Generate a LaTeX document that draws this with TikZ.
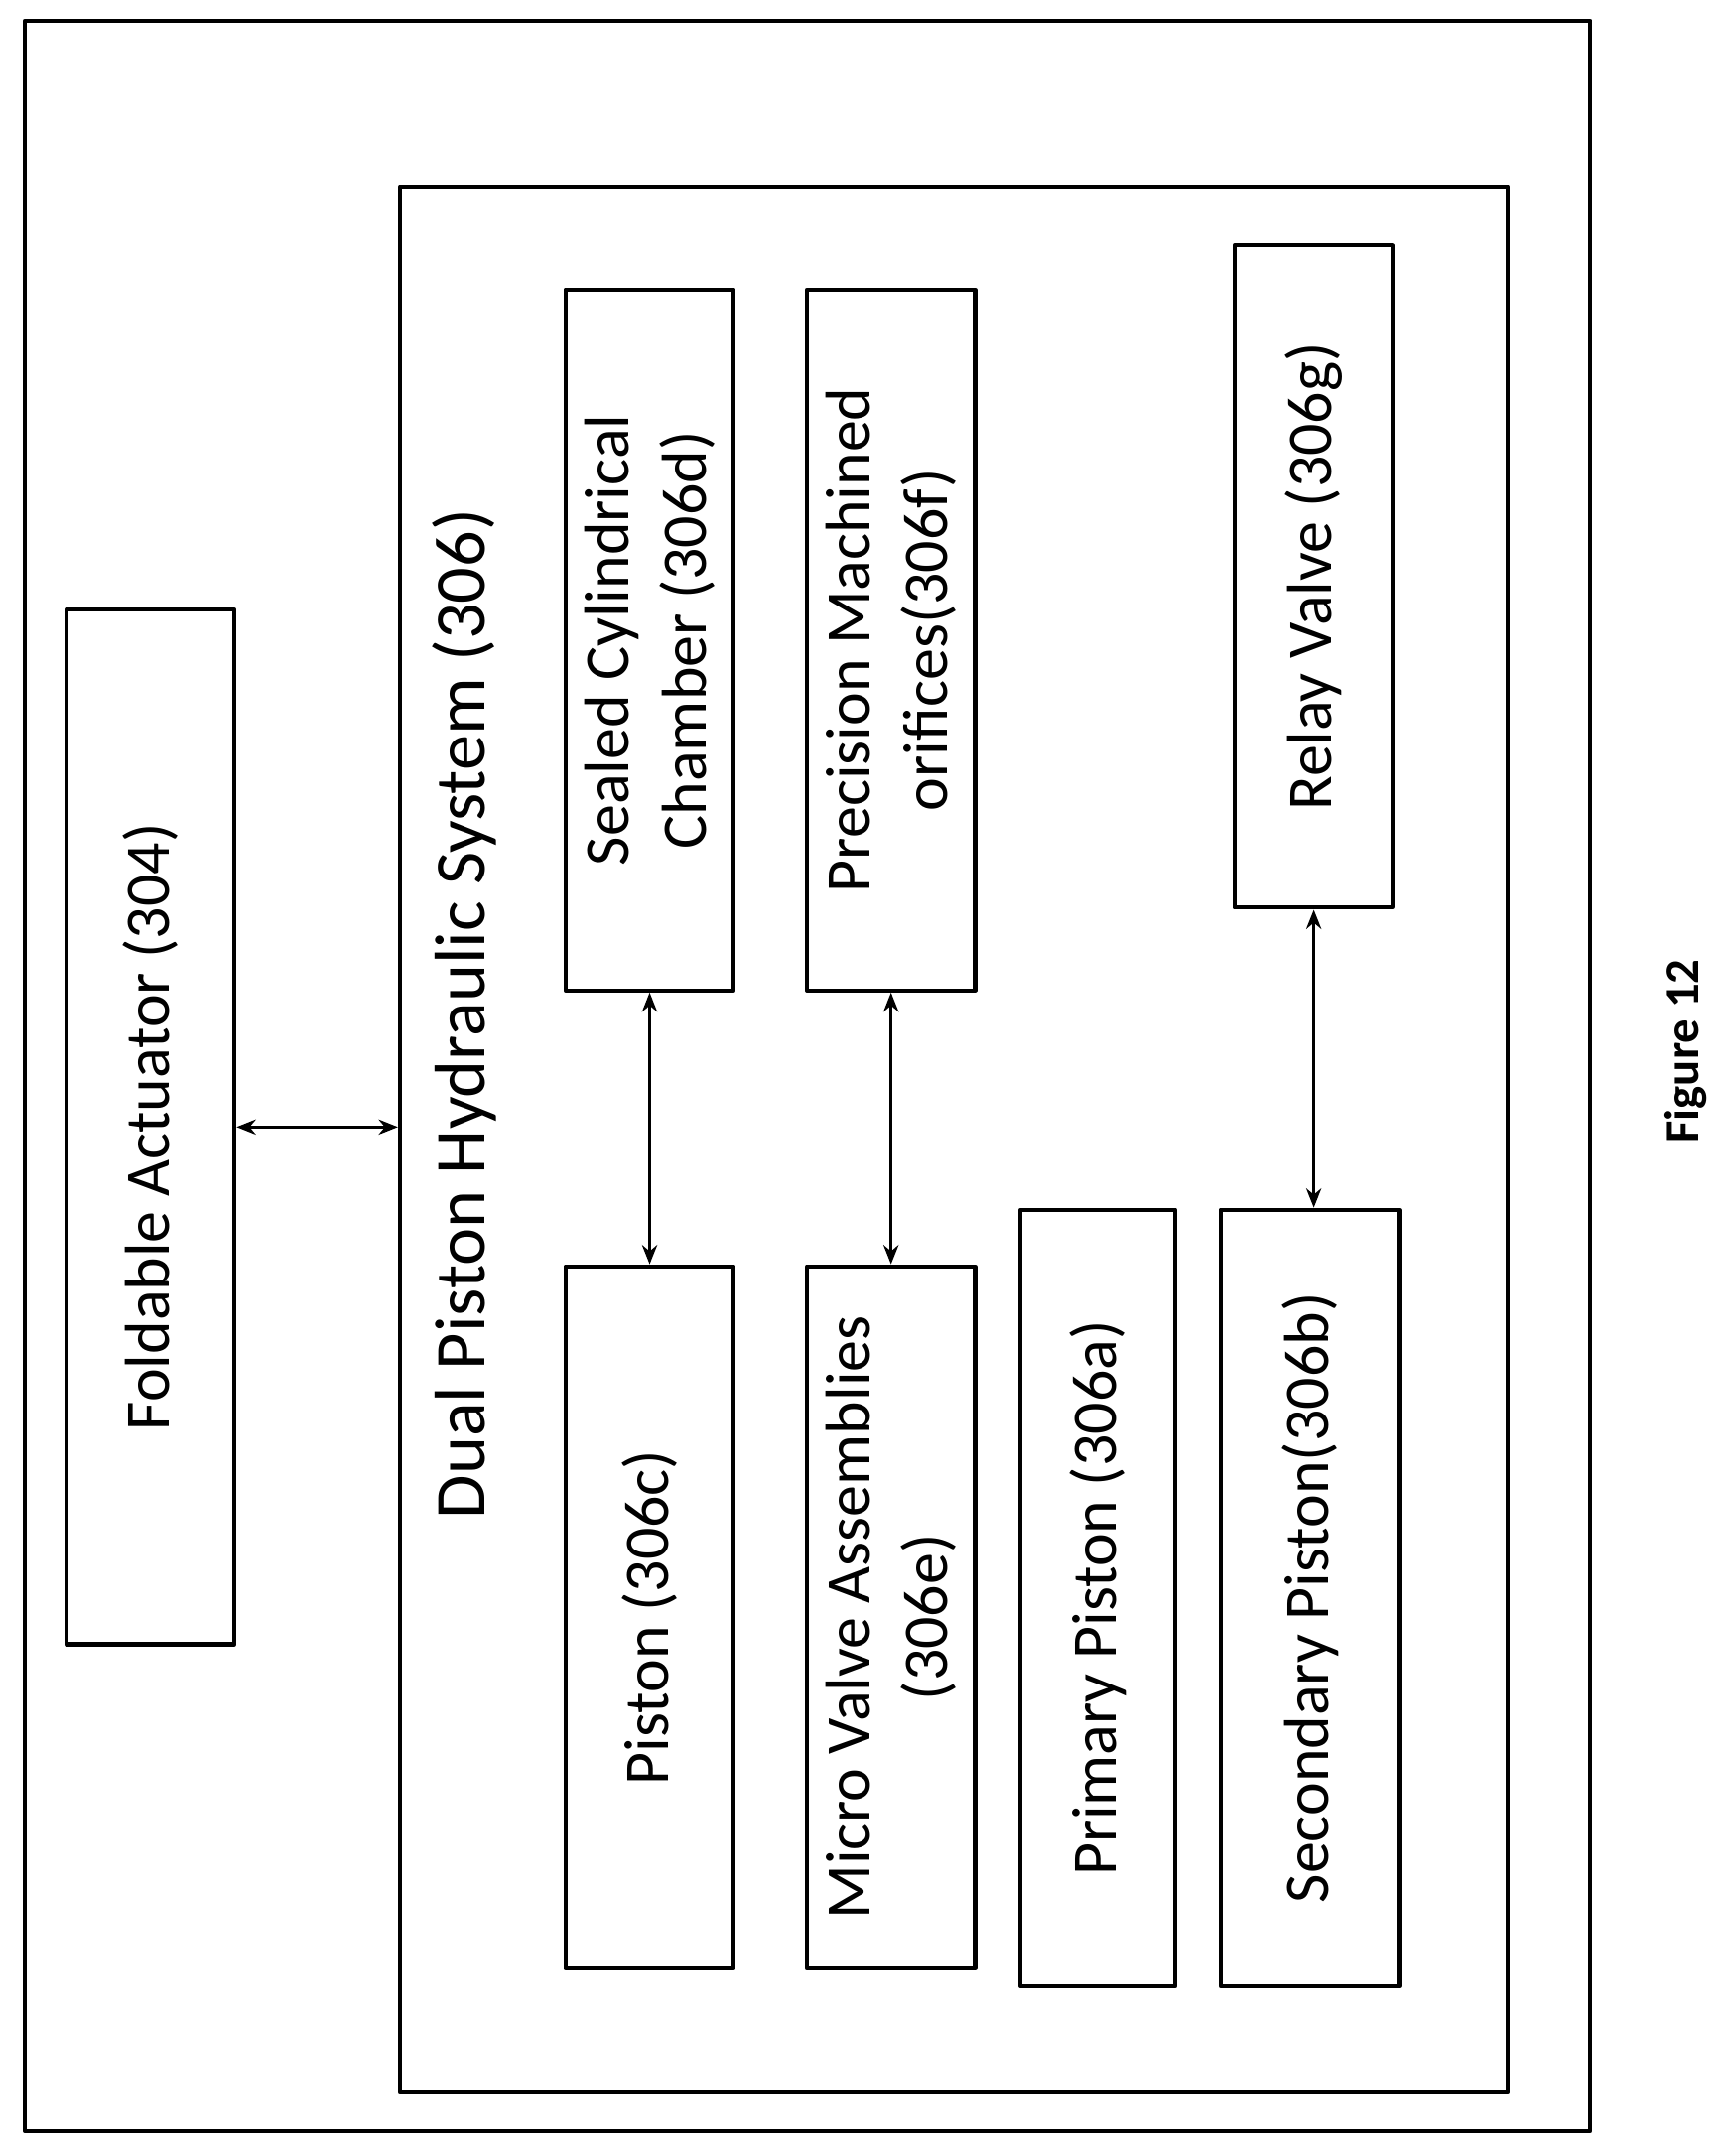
\documentclass[tikz,border=0pt]{standalone}
\usepackage{fontspec}
\usetikzlibrary{arrows.meta}
\setmainfont{Carlito}
\begin{document}
\begin{tikzpicture}[x=1pt,y=-1pt, line join = round, line cap = round,
  blk/.style={draw, line width=3pt, rotate=90, inner sep=0pt, align=center,
    font=\fontsize{46}{56}\selectfont},
  link/.style={<->, line width=2pt, >={Stealth[length=14pt,width=11pt]}}]
\useasboundingbox (0,0) rectangle (1250,1563);
\draw[line width=3pt] (18,15) rectangle (1153,1545);
\node[draw, line width=3pt, minimum width=803pt, minimum height=1382pt, inner sep=0pt] (hyd) at (691.5,826) {};

% boxes: minimum width = screen height, minimum height = screen width
\node[blk, minimum width=750pt, minimum height=122pt] (fa) at (109,817) {Foldable Actuator (304)};
\node[rotate=90, font=\fontsize{52}{62}\selectfont] (dps) at (337,735) {Dual Piston Hydraulic System (306)};

\node[blk, minimum width=508pt, minimum height=122pt] (scc) at (471,464) {Sealed Cylindrical\\Chamber (306d)};
\node[blk, minimum width=508pt, minimum height=122pt] (pmo) at (646,464) {Precision Machined\\orifices(306f)};
\node[blk, minimum width=480pt, minimum height=115pt] (rv) at (952.5,418) {Relay Valve (306g)};
\node[blk, minimum width=509pt, minimum height=122pt] (pc) at (471,1172.5) {Piston (306c)};
\node[blk, minimum width=509pt, minimum height=122pt] (mva) at (646,1172.5) {Micro Valve Assemblies\\(306e)};
\node[blk, minimum width=563pt, minimum height=112pt] (pp) at (796,1158.5) {Primary Piston (306a)};
\node[blk, minimum width=563pt, minimum height=130pt] (sp) at (950,1158.5) {Secondary Piston(306b)};

\draw[link] (fa.south) -- (fa.south -| hyd.west);
\draw[link] (scc.west) -- (pc.east);
\draw[link] (pmo.west) -- (mva.east);
\draw[link] (rv.west) -- (rv.west |- sp.east);

\node[rotate=90, font=\fontsize{35}{42}\selectfont\bfseries] (fig) at (1222,762) {Figure 12};
\end{tikzpicture}
\end{document}
